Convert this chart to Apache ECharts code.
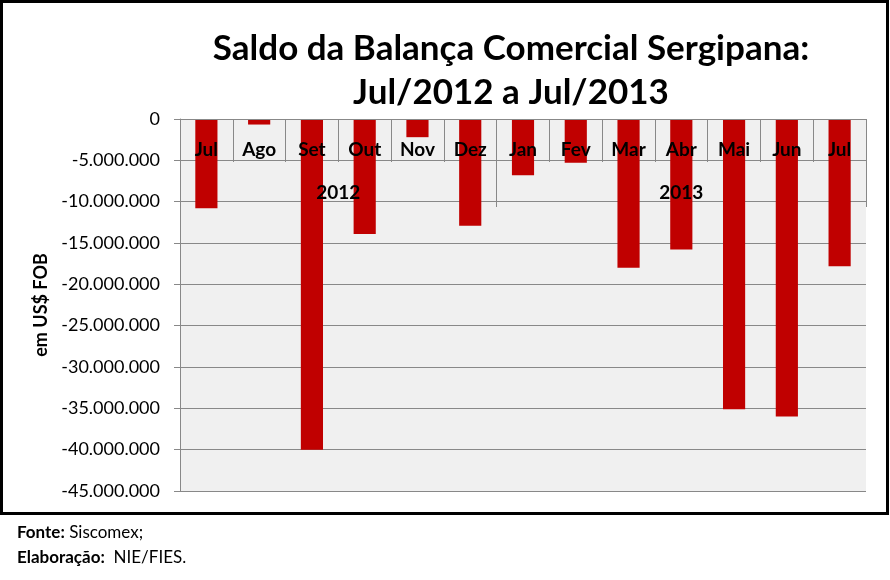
<!DOCTYPE html>
<html>
<head>
<meta charset="utf-8">
<script src="https://cdn.jsdelivr.net/npm/echarts@6/dist/echarts.min.js"></script>
<style>
  body { margin: 0; background: #fff; }
  #main { position: absolute; left: 0; top: 0; width: 890px; height: 580px; }
  #frame { position: absolute; left: 0; top: 0; width: 889px; height: 515px; border: 3px solid #000; box-sizing: border-box; pointer-events: none; }
  #nota { position: absolute; left: 17px; top: 519px; font-family: Lato, sans-serif; font-size: 17px; line-height: 25px; color: #000; }
</style>
</head>
<body>
<div id="main"></div>
<div id="frame"></div>
<div id="nota"><b>Fonte:</b> Siscomex;<br><b>Elaboração:</b>&nbsp; NIE/FIES.</div>
<script>
// meses e saldo (US$ FOB)
var meses = ['Jul', 'Ago', 'Set', 'Out', 'Nov', 'Dez', 'Jan', 'Fev', 'Mar', 'Abr', 'Mai', 'Jun', 'Jul'];
var saldo = [-10800000, -670000, -40000000, -13900000, -2200000, -12900000, -6800000, -5300000, -18000000, -15800000, -35100000, -36000000, -17800000];
var anos = ['2012', '2013'];
var posAnos = [3, 9.5];      // centro de cada ano no eixo dos meses
var divisaoAnos = [0, 6, 13];

var fonte = 'Lato, sans-serif';

function fmt(v) {
    if (v === 0) return '0';
    return (v < 0 ? '-' : '') + Math.abs(v).toString().replace(/\B(?=(\d{3})+(?!\d))/g, '.');
}

var myChart = echarts.init(document.getElementById('main'));
var option = {
    backgroundColor: '#fff',
    animation: false,
    title: {
        text: 'Saldo da Balança Comercial Sergipana:\nJul/2012 a Jul/2013',
        left: 506,
        top: 22,
        textAlign: 'center',
        textStyle: { fontFamily: fonte, fontSize: 35, fontWeight: 'bold', color: '#000', lineHeight: 44 }
    },
    grid: {
        left: 180, right: 24, top: 119, bottom: 89,
        show: true, backgroundColor: '#f0f0f0', borderWidth: 0,
        outerBoundsMode: 'none'
    },
    xAxis: [
        {
            type: 'category',
            position: 'top',
            data: meses,
            z: 10,
            axisLine: { show: true, lineStyle: { color: '#888', width: 1 } },
            axisTick: { show: true, inside: true, length: 43, lineStyle: { color: '#888' } },
            axisLabel: { inside: true, margin: 21, color: '#000', fontFamily: fonte, fontSize: 19, fontWeight: 'bold' },
            splitLine: { show: false }
        },
        {
            type: 'value',
            position: 'top',
            min: 0, max: 13,
            z: 10,
            axisLine: { show: false },
            splitLine: { show: false },
            axisTick: { show: true, inside: true, length: 88, customValues: divisaoAnos, lineStyle: { color: '#888' } },
            axisLabel: {
                inside: true, margin: 64, customValues: posAnos,
                color: '#000', fontFamily: fonte, fontSize: 19, fontWeight: 'bold',
                formatter: function (v) { return v < 6 ? anos[0] : anos[1]; }
            }
        }
    ],
    yAxis: {
        type: 'value',
        min: -45000000, max: 0, interval: 5000000,
        name: 'em US$ FOB',
        nameLocation: 'middle',
        nameGap: 128,
        nameRotate: 90,
        nameTextStyle: { fontFamily: fonte, fontSize: 18, fontWeight: 'bold', color: '#000' },
        axisLine: { show: true, lineStyle: { color: '#888' } },
        axisTick: { show: true, length: 6, lineStyle: { color: '#888' } },
        axisLabel: { margin: 20, color: '#000', fontFamily: fonte, fontSize: 18, formatter: fmt },
        splitLine: { show: true, lineStyle: { color: '#888', width: 1 } }
    },
    series: [{
        type: 'bar',
        data: saldo,
        barWidth: '42%',
        itemStyle: { color: '#c00000' }
    }]
};
myChart.setOption(option);
</script>
</body>
</html>
